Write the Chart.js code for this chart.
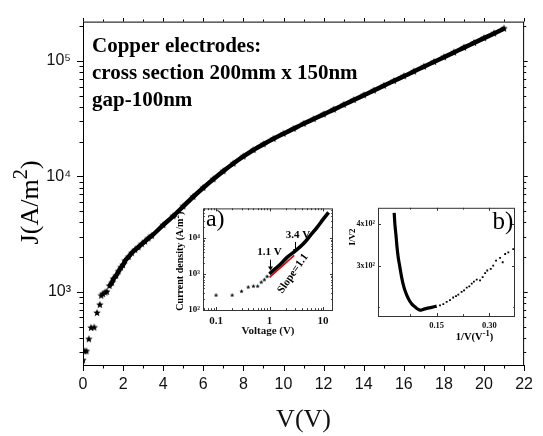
<!DOCTYPE html>
<html>
<head>
<meta charset="utf-8">
<script src="https://cdn.jsdelivr.net/npm/chart.js@4.4.0/dist/chart.umd.min.js"></script>
<style>
  html, body { margin: 0; padding: 0; background: #fff; }
  #wrap { position: relative; width: 543px; height: 436px; }
  canvas { position: absolute; }
  #main { left: 0; top: 0; }
  #insA { left: 155px; top: 200px; }
  #insB { left: 345px; top: 200px; }
</style>
</head>
<body>
<div id="wrap">
  <canvas id="main" width="543" height="436"></canvas>
  <canvas id="insA" width="185" height="140"></canvas>
  <canvas id="insB" width="190" height="145"></canvas>
</div>
<script>
// main J-V curve (V in volts, J in A/m^2)
const mainV = [0.0, 0.07, 0.17, 0.29, 0.40, 0.56, 0.70, 0.84, 0.91, 0.99, 1.11, 1.19, 1.32, 1.44, 1.52, 1.65, 1.77, 1.89, 1.99, 2.10, 2.27, 2.43, 2.60, 2.76, 2.93, 3.09, 3.26, 3.43,
  4.0, 4.5, 5.0, 5.5, 6.0, 6.5, 7.0, 7.5, 8.0, 8.5, 9.0, 9.5, 10.0, 10.5, 11.0, 11.5, 12.0, 12.5, 13.0, 13.5, 14.0, 14.5, 15.0, 15.5, 16.0, 16.5, 17.0, 17.5, 18.0, 18.5, 19.0, 19.5, 20.0, 20.5, 21.0];
const mainJ = [255, 305, 305, 388, 487, 490, 655, 770, 925, 955, 986, 1000, 1122, 1197, 1291, 1377, 1500, 1622, 1703, 1854, 2003, 2163, 2307, 2432, 2588, 2729, 2900, 3055,
  3784, 4519, 5495, 6653, 7962, 9441, 11092, 12912, 14859, 16904, 18967, 21135, 23388, 25823, 28510, 31333, 34435, 37844, 41687, 45814, 50350, 55335, 60954, 66988, 73621, 80910, 89125, 97949, 107647, 118304, 130317, 143219, 157398, 172982, 190546];
const mainXMajor = [0, 2, 4, 6, 8, 10, 12, 14, 16, 18, 20, 22];
const mainXMinor = [1, 3, 5, 7, 9, 11, 13, 15, 17, 19, 21];
const mainYMajor = [1000, 10000, 100000];
const mainYLabels = ['10³', '10⁴', '10⁵'];
const mainYMinor = [300, 400, 500, 600, 700, 800, 900, 2000, 3000, 4000, 5000, 6000, 7000, 8000, 9000,
  20000, 30000, 40000, 50000, 60000, 70000, 80000, 90000, 200000];
const noteLines = ['Copper electrodes:', 'cross section 200mm x 150nm', 'gap-100nm'];

// inset a) log-log
const aSparseV = [0.1, 0.2, 0.3, 0.4, 0.5, 0.6, 0.7, 0.8, 0.9];
const aSparseJ = [257, 257, 330, 431, 457, 457, 590, 690, 850];
const aV = [1.0, 1.2, 1.6, 2.13, 3.04, 4.34, 5.78, 7.7, 10.2, 12.7];
const aJ = [1000, 1280, 1850, 2890, 4370, 7000, 11650, 19400, 33700, 50900];
const aFitV = [1.0, 2.9];
const aFitJ = [805, 3300];
const aXTicks = [0.1, 1, 10];
const aXLabels = ['0.1', '1', '10'];
const aYTicks = [100, 1000, 10000];
const aYLabels = ['10²', '10³', '10⁴'];
const aXMinor = [0.06, 0.07, 0.08, 0.09, 0.2, 0.3, 0.4, 0.5, 0.6, 0.7, 0.8, 0.9, 2, 3, 4, 5, 6, 7, 8, 9];
const aYMinor = [200, 300, 400, 500, 600, 700, 800, 900, 2000, 3000, 4000, 5000, 6000, 7000, 8000, 9000, 20000, 30000, 40000, 50000, 60000];

// inset b) I/V^2 vs 1/V
const bDenseX = [0.0291, 0.0311, 0.0339, 0.0368, 0.0405, 0.0453, 0.0502, 0.0547, 0.0596, 0.0661, 0.0719, 0.0796, 0.0881, 0.0947, 0.1024, 0.1118, 0.1215, 0.1357, 0.150];
const bDenseY = [427.8, 400, 376, 348, 320, 296, 272, 254.4, 240, 225.7, 216, 206.5, 200, 195.2, 192, 193.8, 196.2, 198.6, 201.7];
const bSparseX = [0.1595, 0.169, 0.1785, 0.188, 0.197, 0.205, 0.2116, 0.221, 0.228, 0.2356, 0.243, 0.2498, 0.256, 0.264, 0.2735,
  0.281, 0.288, 0.294, 0.304, 0.311, 0.319, 0.3305, 0.338, 0.345, 0.354, 0.368];
const bSparseY = [203.3, 206.5, 212, 216, 222.5, 225.7, 229.7, 236, 240, 246.5, 249.6, 256, 261, 265.7, 264,
  272, 281.5, 288, 292, 300, 312, 318.5, 308, 328, 332, 340];
const bXTicks = [0.15, 0.30];
const bXMinor = [0.075, 0.225];
const bYTicks = [300, 400];
const bYLabels = ['3x10²', '4x10²'];
const bYMinor = [200];

const SERIF = "'Liberation Serif', 'Times New Roman', serif";
const SANS = "'Liberation Sans', Arial, sans-serif";

function pts(xs, ys) { return xs.map((v, i) => ({ x: v, y: ys[i] })); }

// small filled 5-point star used as marker
function starImg(r) {
  const c = document.createElement('canvas');
  const s = Math.ceil(r * 2 + 2);
  c.width = c.height = s;
  const g = c.getContext('2d');
  g.fillStyle = '#000';
  g.beginPath();
  for (let i = 0; i < 10; i++) {
    const ang = -Math.PI / 2 + i * Math.PI / 5;
    const rr = i % 2 ? r * 0.45 : r;
    g.lineTo(s / 2 + rr * Math.cos(ang), s / 2 + rr * Math.sin(ang));
  }
  g.closePath();
  g.fill();
  return c;
}

function richText(ctx, parts, x, y, rot) {
  ctx.save();
  ctx.translate(x, y);
  ctx.rotate(rot || 0);
  ctx.textBaseline = 'alphabetic';
  ctx.textAlign = 'left';
  let w = 0;
  parts.forEach(p => { ctx.font = p.font; p.w = ctx.measureText(p.t).width; w += p.w; });
  let cx = -w / 2;
  parts.forEach(p => { ctx.font = p.font; ctx.fillText(p.t, cx, p.dy || 0); cx += p.w; });
  ctx.restore();
}

function arrowDown(ctx, x, y0, y1) {
  ctx.beginPath();
  ctx.moveTo(x, y0); ctx.lineTo(x, y1 - 3);
  ctx.stroke();
  ctx.beginPath();
  ctx.moveTo(x - 2.5, y1 - 4); ctx.lineTo(x + 2.5, y1 - 4); ctx.lineTo(x, y1);
  ctx.closePath();
  ctx.fill();
}

// box + tick marks, then extra annotations
function frame(o) {
  return {
    id: 'frame',
    afterDraw(chart) {
      const { ctx, chartArea: a, scales } = chart;
      const x = scales.x, y = scales.y;
      const s = o.out ? 1 : -1;
      ctx.save();
      ctx.strokeStyle = o.color;
      ctx.lineWidth = 1;
      ctx.strokeRect(a.left + 0.5, a.top + 0.5, a.right - a.left - 1, a.bottom - a.top);
      ctx.beginPath();
      const mark = (vals, len, horiz) => vals.forEach(v => {
        if (horiz) {
          const p = Math.round(x.getPixelForValue(v)) + 0.5;
          ctx.moveTo(p, a.bottom); ctx.lineTo(p, a.bottom + s * len);
          ctx.moveTo(p, a.top); ctx.lineTo(p, a.top + len * o.mirror);
        } else {
          const p = Math.round(y.getPixelForValue(v)) + 0.5;
          ctx.moveTo(a.left, p); ctx.lineTo(a.left - s * len, p);
          ctx.moveTo(a.right, p); ctx.lineTo(a.right - len * o.mirror, p);
        }
      });
      mark(o.xMaj, o.maj, true); mark(o.xMin, o.min, true);
      mark(o.yMaj, o.maj, false); mark(o.yMin, o.min, false);
      ctx.stroke();
      ctx.restore();
      if (o.extra) { ctx.save(); o.extra(chart); ctx.restore(); }
    }
  };
}

function baseOpts(pad) {
  return {
    responsive: false,
    animation: false,
    devicePixelRatio: 1,
    layout: { padding: pad },
    plugins: { legend: { display: false }, tooltip: { enabled: false } }
  };
}

// ---- main chart ----
const mainOpts = baseOpts({ left: 0, right: 17, top: 10, bottom: 0 });
mainOpts.scales = {
  x: {
    type: 'linear', min: 0, max: 22,
    afterBuildTicks: s => { s.ticks = mainXMajor.map(v => ({ value: v })); },
    afterFit: s => { s.height = 71; },
    grid: { display: false, drawTicks: false }, border: { display: false },
    ticks: { autoSkip: false, maxRotation: 0, padding: 10, color: '#111', font: { family: SANS, size: 16 } },
    title: { display: true, text: 'V(V)', color: '#111', padding: { top: 0, bottom: 0 }, font: { family: SERIF, size: 26 } }
  },
  y: {
    type: 'logarithmic', min: 232, max: 219000,
    afterBuildTicks: s => { s.ticks = mainYMajor.map(v => ({ value: v })); },
    afterFit: s => { s.width = 83; },
    grid: { display: false, drawTicks: false }, border: { display: false },
    ticks: { autoSkip: false, padding: 12, color: '#111', font: { family: SANS, size: 16 },
      callback: v => { const i = mainYMajor.indexOf(v); return i < 0 ? '' : mainYLabels[i]; } }
  }
};
new Chart(document.getElementById('main'), {
  type: 'scatter',
  data: { datasets: [{
    data: pts(mainV, mainJ),
    showLine: true,
    cubicInterpolationMode: 'monotone',
    borderColor: '#000',
    borderWidth: 4.5,
    segment: { borderColor: c => c.p0.parsed.x < 1.2 ? 'rgba(0,0,0,0)' : '#000' },
    pointStyle: starImg(3.9),
    pointRadius: 3.9
  }] },
  options: mainOpts,
  plugins: [frame({
    color: '#000', out: true, mirror: -0.6, maj: 6, min: 3.5,
    xMaj: mainXMajor, xMin: mainXMinor, yMaj: mainYMajor, yMin: mainYMinor,
    extra: chart => {
      const { ctx, chartArea: a } = chart;
      ctx.fillStyle = '#000';
      ctx.font = 'bold 21px ' + SERIF;
      ctx.textBaseline = 'alphabetic';
      noteLines.forEach((t, i) => ctx.fillText(t, a.left + 9, a.top + 30 + i * 27));
      richText(ctx, [
        { t: 'J(A/m', font: '26px ' + SERIF },
        { t: '2', font: '21px ' + SERIF, dy: -11 },
        { t: ')', font: '26px ' + SERIF }
      ], 38, (a.top + a.bottom) / 2 + 9, -Math.PI / 2);
    }
  })]
});

// ---- inset a ----
const aOpts = baseOpts({ left: 0, right: 7, top: 6, bottom: 0 });
aOpts.scales = {
  x: {
    type: 'logarithmic', min: 0.057, max: 15.4,
    afterBuildTicks: s => { s.ticks = aXTicks.map(v => ({ value: v })); },
    afterFit: s => { s.height = 30; },
    grid: { display: false, drawTicks: false }, border: { display: false },
    ticks: { autoSkip: false, maxRotation: 0, padding: 5, color: '#111', font: { family: SERIF, size: 11, weight: 'bold' },
      callback: v => { const i = aXTicks.indexOf(v); return i < 0 ? '' : aXLabels[i]; } },
    title: { display: true, text: 'Voltage (V)', color: '#111', padding: { top: 0, bottom: 2 }, font: { family: SERIF, size: 11, weight: 'bold' } }
  },
  y: {
    type: 'logarithmic', min: 100, max: 66000,
    afterBuildTicks: s => { s.ticks = aYTicks.map(v => ({ value: v })); },
    afterFit: s => { s.width = 48; },
    grid: { display: false, drawTicks: false }, border: { display: false },
    ticks: { autoSkip: false, padding: 3, color: '#111', font: { family: SERIF, size: 9, weight: 'bold' },
      callback: v => { const i = aYTicks.indexOf(v); return i < 0 ? '' : aYLabels[i]; } }
  }
};
new Chart(document.getElementById('insA'), {
  type: 'scatter',
  data: { datasets: [
    { data: pts(aFitV, aFitJ), showLine: true, borderColor: '#e00000', borderWidth: 1.6, pointRadius: 0 },
    { data: pts(aV, aJ), showLine: true, cubicInterpolationMode: 'monotone', borderColor: '#000', borderWidth: 3.6, pointRadius: 0 },
    { data: pts(aSparseV, aSparseJ), pointStyle: starImg(2.2), pointRadius: 2.2 }
  ] },
  options: aOpts,
  plugins: [frame({
    color: '#333', out: false, mirror: 1, maj: 3, min: 1.8,
    xMaj: aXTicks, xMin: aXMinor, yMaj: aYTicks, yMin: aYMinor,
    extra: chart => {
      const { ctx, chartArea: a, scales: { x, y } } = chart;
      ctx.fillStyle = '#000';
      ctx.strokeStyle = '#000';
      ctx.lineWidth = 1;
      richText(ctx, [
        { t: 'Current density (A/m', font: 'bold 10px ' + SERIF },
        { t: '2', font: 'bold 7px ' + SERIF, dy: -4 },
        { t: ')', font: 'bold 10px ' + SERIF }
      ], 28, (a.top + a.bottom) / 2 + 2, -Math.PI / 2);
      ctx.font = '24px ' + SERIF;
      ctx.textBaseline = 'alphabetic';
      ctx.fillText('a)', x.getPixelForValue(0.0646), y.getPixelForValue(21500));
      ctx.font = 'bold 11px ' + SERIF;
      ctx.textAlign = 'center';
      ctx.fillText('1.1 V', x.getPixelForValue(1.0), y.getPixelForValue(3400));
      ctx.fillText('3.4 V', x.getPixelForValue(3.39), y.getPixelForValue(9700));
      arrowDown(ctx, Math.round(x.getPixelForValue(1.0)) + 0.5, y.getPixelForValue(2500), y.getPixelForValue(1250));
      arrowDown(ctx, Math.round(x.getPixelForValue(3.04)) + 0.5, y.getPixelForValue(7730), y.getPixelForValue(3800));
      ctx.save();
      ctx.translate(x.getPixelForValue(2.74), y.getPixelForValue(1020));
      ctx.rotate(-55 * Math.PI / 180);
      ctx.textBaseline = 'middle';
      ctx.fillText('Slope=1.1', 0, 0);
      ctx.restore();
    }
  })]
});

// ---- inset b ----
const bOpts = baseOpts({ left: 0, right: 20, top: 7, bottom: 0 });
bOpts.scales = {
  x: {
    type: 'linear', min: -0.017, max: 0.373,
    afterBuildTicks: s => { s.ticks = bXTicks.map(v => ({ value: v })); },
    afterFit: s => { s.height = 29; },
    grid: { display: false, drawTicks: false }, border: { display: false },
    ticks: { autoSkip: false, maxRotation: 0, padding: 5, color: '#111', font: { family: SERIF, size: 8.5, weight: 'bold' },
      callback: v => v.toFixed(2) }
  },
  y: {
    type: 'linear', min: 177.7, max: 440,
    afterBuildTicks: s => { s.ticks = bYTicks.map(v => ({ value: v })); },
    afterFit: s => { s.width = 33; },
    grid: { display: false, drawTicks: false }, border: { display: false },
    ticks: { autoSkip: false, padding: 3, color: '#111', font: { family: SERIF, size: 8, weight: 'bold' },
      callback: v => { const i = bYTicks.indexOf(v); return i < 0 ? '' : bYLabels[i]; } }
  }
};
new Chart(document.getElementById('insB'), {
  type: 'scatter',
  data: { datasets: [
    { data: pts(bDenseX, bDenseY), showLine: true, tension: 0.35, borderColor: '#000', borderWidth: 3.2, pointRadius: 0 },
    { data: pts(bSparseX, bSparseY), pointStyle: 'rect', pointRadius: 1.3, backgroundColor: '#000', borderColor: '#000', borderWidth: 0 }
  ] },
  options: bOpts,
  plugins: [frame({
    color: '#333', out: false, mirror: 1, maj: 3, min: 1.8,
    xMaj: bXTicks, xMin: bXMinor, yMaj: bYTicks, yMin: bYMinor,
    extra: chart => {
      const { ctx, chartArea: a, scales: { x, y } } = chart;
      ctx.fillStyle = '#000';
      ctx.font = '25px ' + SERIF;
      ctx.textBaseline = 'alphabetic';
      ctx.fillText('b)', x.getPixelForValue(0.309), y.getPixelForValue(388.7));
      richText(ctx, [
        { t: '1/V(V', font: 'bold 10.5px ' + SERIF },
        { t: '-1', font: 'bold 8.5px ' + SERIF, dy: -4 },
        { t: ')', font: 'bold 10.5px ' + SERIF }
      ], (a.left + a.right) / 2 + 28, 140);
      richText(ctx, [{ t: 'I/V2', font: 'bold 9px ' + SERIF }], 10, 37, -Math.PI / 2);
    }
  })]
});
</script>
</body>
</html>
